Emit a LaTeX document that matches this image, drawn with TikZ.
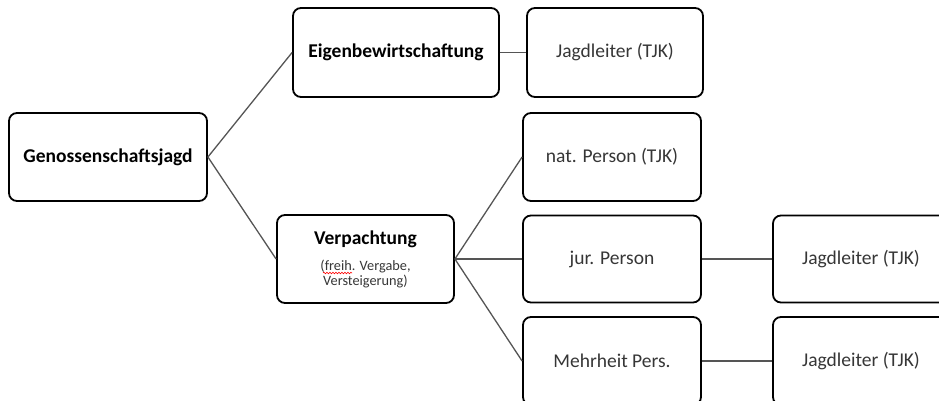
\documentclass[tikz,border=0pt]{standalone}
\usepackage{fontspec}
\setmainfont{Carlito}
\usetikzlibrary{decorations.pathmorphing}
\definecolor{txtgray}{HTML}{363636}
\definecolor{linegray}{HTML}{555555}
\tikzset{
  boxbase/.style={draw=black, line width=1.8pt, rounded corners=8pt, inner sep=0pt,
    minimum height=88pt, align=center, font=\fontsize{19.5}{23}\selectfont},
  mainbox/.style={boxbase, text=black, font=\fontsize{19.5}{23}\selectfont\bfseries},
  subbox/.style={boxbase, text=txtgray},
  conn/.style={draw=linegray, line width=1.3pt},
}
\begin{document}
\begin{tikzpicture}[x=1pt, y=-1pt]
\useasboundingbox (0,0) rectangle (939,400);
\clip (0,0) rectangle (939,400);
\node[mainbox, minimum width=198pt] (gen) at (108,157) {Genossenschaftsjagd};
\node[mainbox, minimum width=206pt, minimum height=89pt] (eigen) at (396,52.5) {Eigenbewirtschaftung};
\node[subbox, minimum width=176pt, minimum height=89pt] (jl1) at (615,52.5) {Jagdleiter (TJK)};
\node[mainbox, minimum width=177pt] (verp) at (365.5,259) {Verpachtung\\[3pt]\mdseries\fontsize{14.3}{14.5}\selectfont\color{txtgray}(freih. Vergabe,\\[-8pt]\mdseries\fontsize{14.3}{14.5}\selectfont\color{txtgray}Versteigerung)};
\node[subbox, minimum width=178pt] (nat) at (612,157) {nat. Person (TJK)};
\node[subbox, minimum width=178pt, minimum height=87pt] (jur) at (612,259) {jur. Person};
\node[subbox, minimum width=178pt] (mehr) at (612,361) {Mehrheit Pers.};
\node[subbox, minimum width=176pt, minimum height=87pt] (jl2) at (861,259) {Jagdleiter (TJK)};
\node[subbox, minimum width=176pt] (jl3) at (861,361) {Jagdleiter (TJK)};
\draw[conn] (gen.east) -- (eigen.west);
\draw[conn] (gen.east) -- (verp.west);
\draw[conn] (eigen.east) -- (jl1.west);
\draw[conn] (verp.east) -- (nat.west);
\draw[conn] (verp.east) -- (jur.west);
\draw[conn] (verp.east) -- (mehr.west);
\draw[conn] (jur.east) -- (jl2.west);
\draw[conn] (mehr.east) -- (jl3.west);
\draw[red, line width=0.6pt, decorate, decoration={snake, amplitude=0.8pt, segment length=3pt}] (323,273) -- (352,273);
\end{tikzpicture}
\end{document}
